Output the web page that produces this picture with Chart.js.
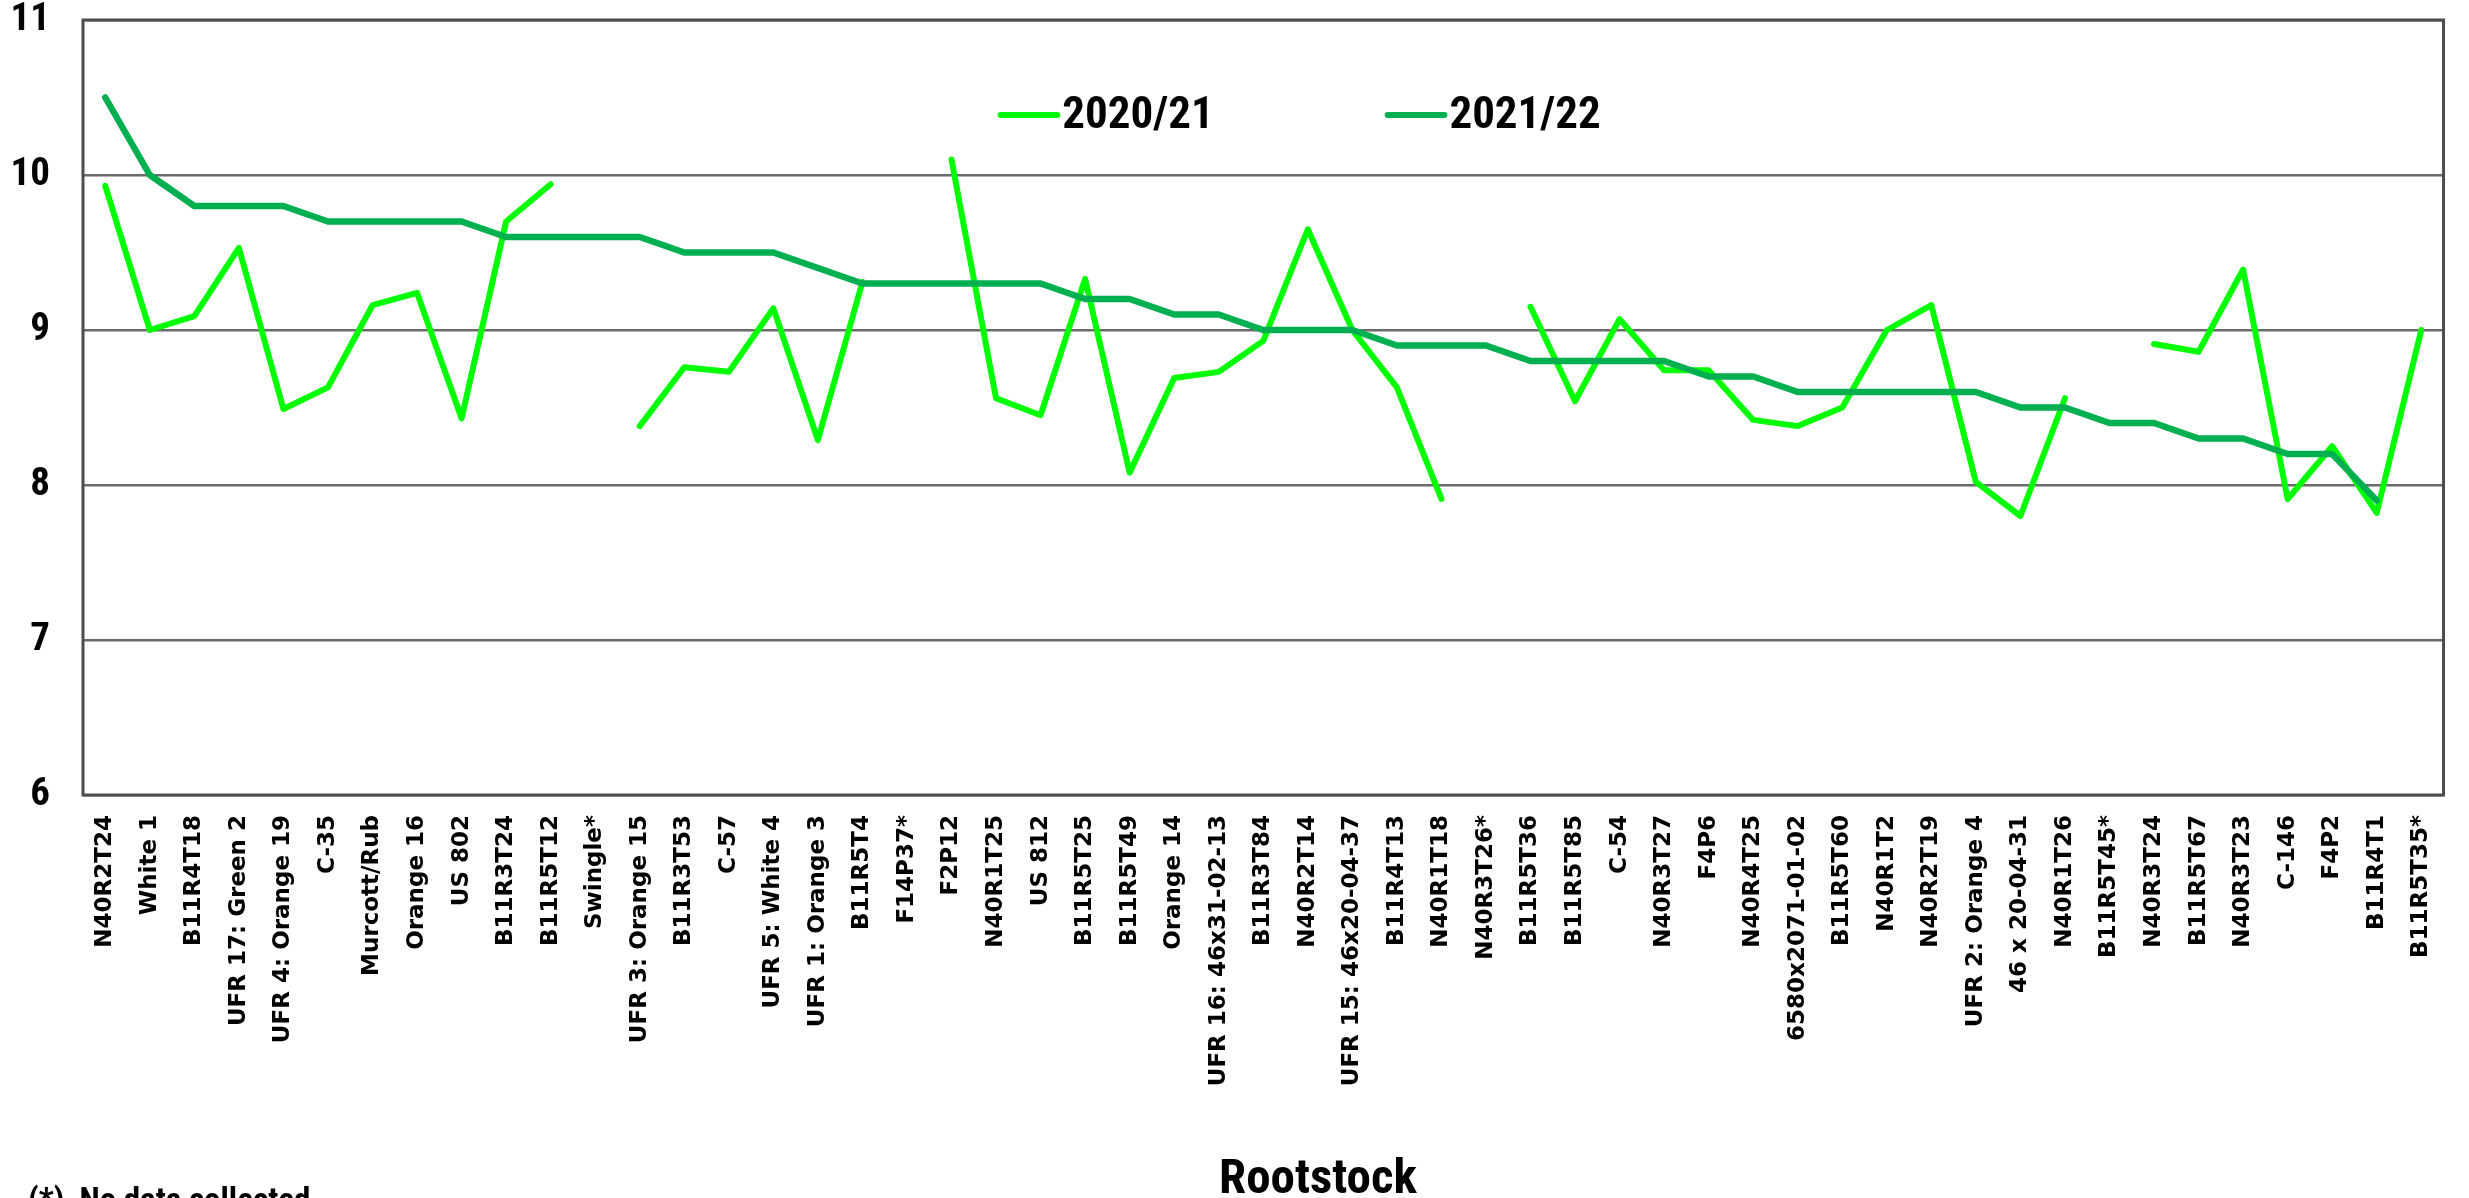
<!DOCTYPE html>
<html>
<head>
<meta charset="utf-8">
<script src="https://cdn.jsdelivr.net/npm/chart.js@4.4.1/dist/chart.umd.min.js"></script>
<style>
  html, body { margin: 0; padding: 0; background: #ffffff; }
  #c { display: block; }
</style>
</head>
<body>
<canvas id="c" width="2469" height="1198"></canvas>
<script>
const categories = [
  "N40R2T24", "White 1", "B11R4T18", "UFR 17: Green 2", "UFR 4: Orange 19", "C-35",
  "Murcott/Rub", "Orange 16", "US 802", "B11R3T24", "B11R5T12", "Swingle*",
  "UFR 3: Orange 15", "B11R3T53", "C-57", "UFR 5: White 4", "UFR 1: Orange 3", "B11R5T4",
  "F14P37*", "F2P12", "N40R1T25", "US 812", "B11R5T25", "B11R5T49",
  "Orange 14", "UFR 16: 46x31-02-13", "B11R3T84", "N40R2T14", "UFR 15: 46x20-04-37", "B11R4T13",
  "N40R1T18", "N40R3T26*", "B11R5T36", "B11R5T85", "C-54", "N40R3T27",
  "F4P6", "N40R4T25", "6580x2071-01-02", "B11R5T60", "N40R1T2", "N40R2T19",
  "UFR 2: Orange 4", "46 x 20-04-31", "N40R1T26", "B11R5T45*", "N40R3T24", "B11R5T67",
  "N40R3T23", "C-146", "F4P2", "B11R4T1", "B11R5T35*"
];

const seriesNames = ["2020/21", "2021/22"];

const values2020 = [
  9.93, 9.00, 9.09, 9.53, 8.49, 8.63,
  9.16, 9.24, 8.43, 9.70, 9.94, null,
  8.38, 8.76, 8.73, 9.14, 8.29, 9.31,
  null, 10.10, 8.56, 8.45, 9.33, 8.08,
  8.69, 8.73, 8.93, 9.65, 9.00, 8.63,
  7.91, null, 9.15, 8.54, 9.07, 8.74,
  8.74, 8.42, 8.38, 8.50, 9.00, 9.16,
  8.02, 7.80, 8.56, null, 8.91, 8.86,
  9.39, 7.91, 8.25, 7.82, 9.00
];

const values2021 = [
  10.5, 10.0, 9.8, 9.8, 9.8, 9.7,
  9.7, 9.7, 9.7, 9.6, 9.6, 9.6,
  9.6, 9.5, 9.5, 9.5, 9.4, 9.3,
  9.3, 9.3, 9.3, 9.3, 9.2, 9.2,
  9.1, 9.1, 9.0, 9.0, 9.0, 8.9,
  8.9, 8.9, 8.8, 8.8, 8.8, 8.8,
  8.7, 8.7, 8.6, 8.6, 8.6, 8.6,
  8.6, 8.5, 8.5, 8.4, 8.4, 8.3,
  8.3, 8.2, 8.2, 7.9, null
];

const yTicks = [6, 7, 8, 9, 10, 11];
const xAxisTitle = "Rootstock";
const footNote = "(*)  No data collected";

const COL_LIGHT = "#00FF00";
const COL_DARK = "#00B050";
const NARROW = "'Liberation Sans Narrow', 'Arial Narrow', 'Roboto Condensed', sans-serif";

const framePlugin = {
  id: "frame",
  afterDatasetsDraw(chart) {
    const { ctx, chartArea: a } = chart;
    ctx.save();
    ctx.strokeStyle = "#4d4d4d";
    ctx.lineWidth = 3;
    ctx.strokeRect(a.left, a.top, a.right - a.left, a.bottom - a.top);
    ctx.restore();
  }
};

const legendPlugin = {
  id: "customLegend",
  afterDraw(chart) {
    const { ctx, chartArea: a } = chart;
    const w = a.right - a.left;
    const y = a.top + (115 - 20);
    const items = [
      { start: (1005 - 83) / 2372, end: (1062 - 83) / 2372, ds: 0 },
      { start: (1394 - 83) / 2372, end: (1451 - 83) / 2372, ds: 1 }
    ];
    ctx.save();
    items.forEach(it => {
      const ds = chart.data.datasets[it.ds];
      const x1 = a.left + it.start * w, x2 = a.left + it.end * w;
      ctx.strokeStyle = ds.borderColor;
      ctx.lineWidth = 6;
      ctx.lineCap = "round";
      ctx.beginPath();
      ctx.moveTo(x1, y);
      ctx.lineTo(x2, y);
      ctx.stroke();
      ctx.fillStyle = "#000";
      ctx.font = "bold 45px " + NARROW;
      ctx.textAlign = "left";
      ctx.textBaseline = "middle";
      ctx.fillText(ds.label, x2 + 5, y + 2);
    });
    ctx.restore();
  }
};

const textPlugin = {
  id: "extraText",
  afterDraw(chart) {
    const { ctx, width } = chart;
    ctx.save();
    ctx.fillStyle = "#000";
    ctx.font = "bold 49px " + NARROW;
    ctx.textAlign = "center";
    ctx.textBaseline = "alphabetic";
    ctx.fillText(xAxisTitle, width * (1318 / 2469), 1193);
    ctx.font = "bold 33px " + NARROW;
    ctx.textAlign = "left";
    ctx.fillText(footNote, 28, 1211);
    ctx.restore();
  }
};

new Chart(document.getElementById("c"), {
  type: "line",
  data: {
    labels: categories,
    datasets: [
      {
        label: seriesNames[0],
        data: values2020,
        borderColor: COL_LIGHT,
        backgroundColor: COL_LIGHT,
        borderWidth: 6,
        pointRadius: 0,
        tension: 0,
        spanGaps: false,
        borderCapStyle: "round",
        borderJoinStyle: "round",
        order: 1
      },
      {
        label: seriesNames[1],
        data: values2021,
        borderColor: COL_DARK,
        backgroundColor: COL_DARK,
        borderWidth: 6.5,
        pointRadius: 0,
        tension: 0,
        spanGaps: false,
        borderCapStyle: "round",
        borderJoinStyle: "round",
        order: 0
      }
    ]
  },
  options: {
    responsive: false,
    animation: false,
    devicePixelRatio: 1,
    layout: { padding: { top: 20, right: 14, left: 0, bottom: 0 } },
    plugins: {
      legend: { display: false },
      tooltip: { enabled: false },
      title: { display: false }
    },
    scales: {
      x: {
        type: "category",
        offset: true,
        grid: { display: false, drawTicks: false },
        border: { display: false },
        ticks: {
          autoSkip: false,
          minRotation: 90,
          maxRotation: 90,
          padding: 20,
          color: "#000",
          font: { family: "'DejaVu Sans', Verdana, sans-serif", weight: "bold", size: 23 }
        },
        afterFit(scale) { scale.height = 403; }
      },
      y: {
        min: yTicks[0],
        max: yTicks[yTicks.length - 1],
        afterBuildTicks(scale) { scale.ticks = yTicks.map(v => ({ value: v })); },
        grid: { color: "#6b6b6b", lineWidth: 2.5, drawTicks: false },
        border: { display: false },
        ticks: {
          padding: 33,
          color: "#000",
          font: { family: NARROW, weight: "bold", size: 39 }
        },
        afterFit(scale) {
          scale.width = 83;
          scale.paddingTop = 0;
          scale.paddingBottom = 0;
        }
      }
    }
  },
  plugins: [framePlugin, legendPlugin, textPlugin]
});
</script>
</body>
</html>
